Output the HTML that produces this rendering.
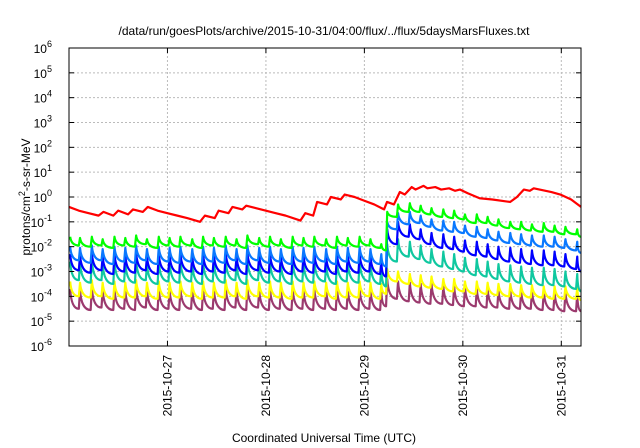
<!DOCTYPE html>
<html><head><meta charset="utf-8"><style>
body{margin:0;background:#fff;}
svg{display:block;font-family:"Liberation Sans",sans-serif;}
</style></head><body>
<svg id="chart" width="640" height="448" viewBox="0 0 640 448">
<text x="324" y="35" font-size="12" text-anchor="middle">/data/run/goesPlots/archive/2015-10-31/04:00/flux/../flux/5daysMarsFluxes.txt</text>
<g id="grid"></g><g id="series"></g><g id="axes"></g>
<text x="324" y="442" font-size="12" text-anchor="middle">Coordinated Universal Time (UTC)</text>
<text transform="translate(30,197) rotate(-90)" font-size="12" text-anchor="middle">protons/cm<tspan dy="-5" font-size="9">2</tspan><tspan dy="5">-s-sr-MeV</tspan></text>
</svg>
<script>
const xTickLabels=["2015-10-27","2015-10-28","2015-10-29","2015-10-30","2015-10-31"];
const xTickDays=[1,2,3,4,5];
const yTickExps=[6,5,4,3,2,1,0,-1,-2,-3,-4,-5,-6];
const toothTimes=[0.00,0.10,0.22,0.33,0.45,0.56,0.67,0.78,0.90,1.01,1.12,1.24,1.35,1.46,1.58,1.69,1.80,1.92,2.03,2.14,2.26,2.37,2.48,2.60,2.71,2.82,2.94,3.05,3.16,3.22,3.33,3.45,3.56,3.67,3.79,3.90,4.01,4.13,4.24,4.35,4.47,4.58,4.69,4.81,4.92,5.03,5.15];
const greenPeaks=[-1.6,-1.65,-1.6,-1.7,-1.6,-1.65,-1.55,-1.7,-1.6,-1.65,-1.6,-1.7,-1.6,-1.65,-1.6,-1.7,-1.55,-1.65,-1.6,-1.7,-1.6,-1.65,-1.6,-1.7,-1.6,-1.65,-1.6,-1.7,-1.9,-0.6,-0.3,-0.25,-0.35,-0.45,-0.5,-0.55,-0.7,-0.7,-0.8,-0.9,-1.0,-1.0,-1.1,-1.05,-1.15,-1.2,-1.3];
const greenTroughs=[-1.95,-2.0,-1.95,-2.05,-1.95,-2.0,-1.9,-2.05,-1.95,-2.0,-1.95,-2.05,-1.95,-2.0,-1.95,-2.05,-1.9,-2.0,-1.95,-2.05,-1.95,-2.0,-1.95,-2.05,-1.95,-2.0,-1.95,-2.05,-2.15,-0.8,-0.6,-0.6,-0.7,-0.8,-0.85,-0.9,-1.05,-1.05,-1.15,-1.25,-1.3,-1.35,-1.4,-1.4,-1.5,-1.5,-1.6];
const lbluePeaks=[-2.0,-2.05,-1.95,-2.1,-2.0,-2.05,-1.95,-2.1,-2.0,-2.05,-2.0,-2.1,-2.0,-2.05,-1.95,-2.1,-1.95,-2.05,-2.0,-2.1,-2.0,-2.05,-2.0,-2.1,-2.0,-2.05,-2.0,-2.1,-2.3,-1.0,-0.65,-0.6,-0.75,-0.9,-0.95,-1.0,-1.15,-1.2,-1.3,-1.4,-1.45,-1.5,-1.55,-1.55,-1.6,-1.7,-1.8];
const lblueTroughs=[-2.55,-2.65,-2.55,-2.7,-2.6,-2.65,-2.55,-2.7,-2.6,-2.65,-2.6,-2.7,-2.6,-2.65,-2.55,-2.7,-2.55,-2.65,-2.6,-2.7,-2.6,-2.65,-2.6,-2.7,-2.6,-2.65,-2.6,-2.7,-2.8,-1.3,-1.1,-1.05,-1.2,-1.35,-1.4,-1.45,-1.6,-1.65,-1.75,-1.85,-1.9,-1.95,-2.0,-2.0,-2.05,-2.15,-2.25];
const bluePeaks=[-2.3,-2.35,-2.25,-2.4,-2.3,-2.35,-2.25,-2.4,-2.3,-2.35,-2.3,-2.4,-2.3,-2.35,-2.25,-2.4,-2.25,-2.35,-2.3,-2.4,-2.3,-2.35,-2.3,-2.4,-2.3,-2.35,-2.3,-2.4,-2.6,-1.3,-1.0,-1.1,-1.3,-1.45,-1.5,-1.6,-1.75,-1.8,-1.9,-2.0,-2.05,-2.1,-2.15,-2.15,-2.2,-2.3,-2.4];
const blueTroughs=[-2.95,-3.05,-2.95,-3.1,-3.0,-3.05,-2.95,-3.1,-3.0,-3.05,-3.0,-3.1,-3.0,-3.05,-2.95,-3.1,-2.95,-3.05,-3.0,-3.1,-3.0,-3.05,-3.0,-3.1,-3.0,-3.05,-3.0,-3.1,-3.2,-1.9,-1.6,-1.7,-1.9,-2.05,-2.1,-2.2,-2.35,-2.4,-2.5,-2.6,-2.65,-2.7,-2.75,-2.75,-2.8,-2.9,-3.0];
const tealPeaks=[-2.6,-2.65,-2.55,-2.7,-2.6,-2.65,-2.55,-2.7,-2.6,-2.65,-2.6,-2.7,-2.6,-2.65,-2.55,-2.7,-2.55,-2.65,-2.6,-2.7,-2.6,-2.65,-2.6,-2.7,-2.6,-2.65,-2.6,-2.7,-2.9,-1.9,-1.7,-1.8,-1.95,-2.1,-2.2,-2.3,-2.45,-2.5,-2.6,-2.7,-2.75,-2.8,-2.85,-2.85,-2.9,-3.0,-3.1];
const tealTroughs=[-3.35,-3.45,-3.35,-3.5,-3.4,-3.45,-3.35,-3.5,-3.4,-3.45,-3.4,-3.5,-3.4,-3.45,-3.35,-3.5,-3.35,-3.45,-3.4,-3.5,-3.4,-3.45,-3.4,-3.5,-3.4,-3.45,-3.4,-3.5,-3.6,-2.6,-2.4,-2.5,-2.65,-2.8,-2.9,-3.0,-3.15,-3.2,-3.3,-3.4,-3.45,-3.5,-3.55,-3.55,-3.6,-3.7,-3.8];
const yellowPeaks=[-3.4,-3.45,-3.35,-3.45,-3.4,-3.45,-3.35,-3.45,-3.4,-3.45,-3.4,-3.45,-3.4,-3.45,-3.35,-3.45,-3.35,-3.45,-3.4,-3.45,-3.4,-3.45,-3.4,-3.45,-3.4,-3.45,-3.4,-3.45,-3.5,-2.9,-3.0,-3.1,-3.15,-3.2,-3.3,-3.3,-3.4,-3.4,-3.45,-3.5,-3.5,-3.55,-3.55,-3.6,-3.6,-3.6,-3.65];
const yellowTroughs=[-4.0,-4.05,-4.0,-4.1,-4.05,-4.05,-4.0,-4.1,-4.05,-4.05,-4.0,-4.1,-4.05,-4.05,-4.0,-4.1,-4.0,-4.05,-4.05,-4.1,-4.05,-4.05,-4.0,-4.1,-4.05,-4.05,-4.0,-4.1,-3.9,-3.4,-3.5,-3.6,-3.65,-3.7,-3.8,-3.8,-3.9,-3.9,-3.95,-4.0,-4.0,-4.05,-4.05,-4.1,-4.1,-4.1,-4.15];
const purplePeaks=[-3.7,-3.75,-3.65,-3.75,-3.7,-3.75,-3.65,-3.75,-3.7,-3.75,-3.7,-3.75,-3.7,-3.75,-3.65,-3.75,-3.65,-3.75,-3.7,-3.75,-3.7,-3.75,-3.7,-3.75,-3.7,-3.75,-3.7,-3.75,-3.8,-3.3,-3.4,-3.45,-3.5,-3.5,-3.6,-3.6,-3.65,-3.7,-3.7,-3.75,-3.75,-3.8,-3.8,-3.8,-3.85,-3.85,-3.9];
const purpleTroughs=[-4.5,-4.55,-4.45,-4.55,-4.5,-4.55,-4.45,-4.55,-4.5,-4.55,-4.5,-4.55,-4.5,-4.55,-4.45,-4.55,-4.45,-4.55,-4.5,-4.55,-4.5,-4.55,-4.5,-4.55,-4.5,-4.55,-4.5,-4.55,-4.4,-4.1,-4.2,-4.25,-4.3,-4.3,-4.35,-4.4,-4.4,-4.45,-4.45,-4.5,-4.5,-4.5,-4.55,-4.55,-4.6,-4.6,-4.6];
const redTimes=[0,0.1,0.2,0.3,0.35,0.45,0.5,0.6,0.65,0.75,0.8,0.9,1.0,1.1,1.2,1.33,1.38,1.48,1.52,1.62,1.66,1.76,1.8,1.9,2.0,2.1,2.2,2.35,2.4,2.48,2.52,2.62,2.66,2.76,2.8,2.9,3.0,3.1,3.2,3.23,3.3,3.36,3.41,3.48,3.52,3.6,3.64,3.72,3.78,3.86,3.92,3.97,4.05,4.17,4.3,4.48,4.55,4.62,4.68,4.72,4.78,4.9,4.99,5.1,5.2];
const redValues=[-0.4,-0.55,-0.65,-0.75,-0.6,-0.75,-0.55,-0.7,-0.5,-0.6,-0.4,-0.55,-0.65,-0.75,-0.85,-1.0,-0.75,-0.85,-0.55,-0.65,-0.4,-0.5,-0.35,-0.45,-0.55,-0.65,-0.75,-0.95,-0.65,-0.75,-0.2,-0.3,0.0,-0.1,0.1,0.0,-0.15,-0.3,-0.5,-0.2,-0.3,0.2,0.1,0.4,0.3,0.45,0.35,0.4,0.3,0.35,0.25,0.3,0.15,-0.05,-0.1,-0.2,0.0,0.3,0.25,0.35,0.3,0.2,0.1,-0.1,-0.4];

const X0=69,X1=581,Y0=48,Y1=346,DMAX=5.2,EMIN=-6,EMAX=6;
const xs=d=>X0+(d/DMAX)*(X1-X0);
const ys=e=>Y1-(e-EMIN)/(EMAX-EMIN)*(Y1-Y0);
const NS="http://www.w3.org/2000/svg";
function mk(tag,attrs,parent){const e=document.createElementNS(NS,tag);for(const k in attrs)e.setAttribute(k,attrs[k]);parent.appendChild(e);return e;}
const grid=document.getElementById('grid'),axes=document.getElementById('axes'),ser=document.getElementById('series');
yTickExps.forEach(e=>{
  const y=ys(e);
  if(e>EMIN&&e<EMAX){const l=mk('line',{x1:X0,x2:X1,y1:y,y2:y,stroke:'#bbb','stroke-dasharray':'2,2','stroke-width':1},grid);
  
  }
  const t=mk('text',{x:52,y:y+5,'font-size':12,'text-anchor':'end'},axes);
  
  
  t.innerHTML='10<tspan dy="-6" font-size="9">'+e+'</tspan>';
  mk('line',{x1:X0,x2:X0+5,y1:y,y2:y,stroke:'#000'},axes);
  mk('line',{x1:X1,x2:X1-5,y1:y,y2:y,stroke:'#000'},axes);
});
xTickDays.forEach((d,i)=>{
  const x=xs(d);
  const l=mk('line',{x1:x,x2:x,y1:Y0,y2:Y1,stroke:'#bbb','stroke-dasharray':'2,2'},grid);
  
  
  mk('line',{x1:x,x2:x,y1:Y1,y2:Y1-5,stroke:'#000'},axes);
  mk('line',{x1:x,x2:x,y1:Y0,y2:Y0+5,stroke:'#000'},axes);
  const t=mk('text',{transform:`translate(${x+4},${Y1+9}) rotate(-90)`,'font-size':12,'text-anchor':'end'},axes);
  
  
  t.textContent=xTickLabels[i];
});
const frame=mk('rect',{x:X0,y:Y0,width:X1-X0,height:Y1-Y0,fill:'none',stroke:'#000','stroke-width':1},axes);


function saw(pk,tr){
  let p='';
  const n=toothTimes.length;
  for(let i=0;i<n;i++){
    const t=toothTimes[i];
    const tn=i<n-1?toothTimes[i+1]:DMAX;
    const px=xs(t+0.012),py=ys(pk[i]);
    p+=(i?'L':'M')+`${px},${py} `;
    const ex=xs(tn),ey=ys(tr[i]);
    p+=`Q${px+(ex-px)*0.12},${ey} ${ex},${ey} `;
  }
  return p;
}
const sets=[[purplePeaks,purpleTroughs,'#9b3a6e','series-purple'],[yellowPeaks,yellowTroughs,'#ffff00','series-yellow'],[tealPeaks,tealTroughs,'#10c8a0','series-teal'],[bluePeaks,blueTroughs,'#0000ff','series-blue'],[lbluePeaks,lblueTroughs,'#0a78ff','series-light-blue'],[greenPeaks,greenTroughs,'#00ff00','series-green']];
sets.forEach(s=>{
  const p=mk('path',{d:saw(s[0],s[1]),fill:'none',stroke:s[2],'stroke-width':2.2,'stroke-linejoin':'round'},ser);
  
  
});
let rd='';
redTimes.forEach((t,i)=>{rd+=(i?'L':'M')+xs(t)+','+ys(redValues[i])+' ';});
const rp=mk('path',{d:rd,fill:'none',stroke:'#ff0000','stroke-width':2.2,'stroke-linejoin':'round'},ser);


</script>
</body></html>
